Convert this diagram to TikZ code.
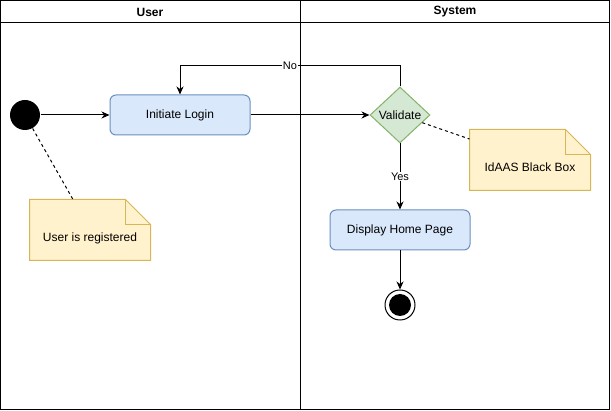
\documentclass[tikz,border=0pt]{standalone}
\usepackage{fontspec}
\setmainfont{Liberation Sans}
\usetikzlibrary{arrows.meta,shapes.geometric}

\definecolor{actfill}{HTML}{DAE8FC}
\definecolor{actline}{HTML}{6C8EBF}
\definecolor{decfill}{HTML}{D5E8D4}
\definecolor{decline}{HTML}{82B366}
\definecolor{notefill}{HTML}{FFF2CC}
\definecolor{noteline}{HTML}{D6B656}

\begin{document}
\begin{tikzpicture}[x=1pt, y=-1pt, line width=1pt,
    font=\fontsize{12}{14}\selectfont,
    action/.style ={rectangle, rounded corners=6pt, draw=actline, fill=actfill, minimum width=140pt, minimum height=40pt},
    decision/.style ={diamond, draw=decline, fill=decfill, inner sep=0pt, aspect=1.07, minimum width=60pt, minimum height=56pt},
    notebox/.style ={rectangle, inner sep=0pt, minimum width=120pt, minimum height=60pt, text height=24pt, text depth=0pt},
    notepath/.style ={draw=noteline, fill=notefill},
    initial/.style ={circle, fill, inner sep=0pt, minimum size=30pt},
    final/.style ={circle, draw, fill=white, inner sep=0pt, minimum size=30pt},
    flow/.style ={-{Stealth[length=8pt, width=7pt, inset=2.5pt]}},
    hint/.style ={dash pattern=on 3pt off 3pt},
    edgelabel/.style ={fill=white, inner sep=1pt, font=\fontsize{11}{13}\selectfont},
    lane/.style ={font=\fontsize{12}{14}\selectfont\bfseries}]
   % swimlanes
   \useasboundingbox (0,0) rectangle (611,411);
   \draw (0.5,0.5) rectangle (609.5,409.5);
   \draw (0.5,23) -- (609.5,23);
   \draw (300,0.5) -- (300,409.5);
   \node[lane] (userlane) at (150,12) {User};
   \node[lane] (systemlane) at (455,12) {System};

   \node[initial] (start) at (25,115) {};
   \node[action] (login) at (180,115) {Initiate Login};
   \node[decision] (validate) at (400,115) {Validate};
   \node[action] (home) at (400,230) {Display Home Page};
   \node[final] (stop) at (400,305) {};
   \fill (stop) circle (11pt);
   \coordinate (noturn) at (400,66);

   % notes
   \node[notebox] (usernote) at (90,230) {};
   \node[notebox] (idnote) at (530,160) {};
   \foreach \n in {usernote, idnote} {
     \draw[notepath] (\n.north west) -- ([xshift=-25pt]\n.north east) -- ([yshift=-25pt]\n.north east)
        -- (\n.south east) -- (\n.south west) -- cycle;
     \draw[draw=noteline] ([xshift=-25pt]\n.north east) -- ([xshift=-25pt, yshift=-25pt]\n.north east)
        -- ([yshift=-25pt]\n.north east);
   }
   \node[notebox] at (usernote) {User is registered};
   \node[notebox] at (idnote) {IdAAS Black Box};

   \draw[flow] (start) to (login);
   \draw[flow] (login) to (validate);
   \draw[flow] (validate.north) -- (noturn) -| node[pos=0.25, edgelabel] {No} (login.north);
   \draw[flow] (validate) to node[edgelabel] {Yes} (home);
   \draw[flow] (home) to (stop);
   \draw[hint] (start) to ([xshift=-17pt]usernote.north);
   \draw[hint] (validate) to ([yshift=21pt]idnote.west);
 \end{tikzpicture}
\end{document}
